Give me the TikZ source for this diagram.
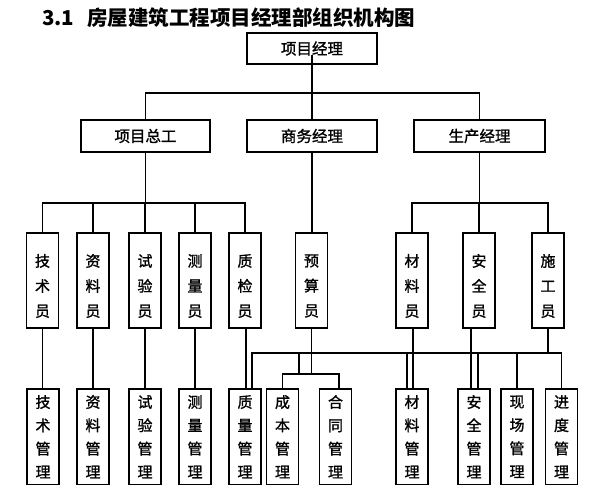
\documentclass[tikz,border=0pt]{standalone}
\usepackage{fontspec}
\setmainfont{Liberation Sans}
\newfontfamily\cjk{Noto Sans CJK SC}
\newfontfamily\cjkb[FakeBold=1.2]{Noto Sans CJK SC}
\usetikzlibrary{calc}
\begin{document}
\begin{tikzpicture}[x=1pt,y=-1pt,
  box/.style={draw, line width=1.4pt, inner sep=0pt},
  hbox/.style={box, minimum height=32pt, font=\cjkb\fontsize{15.5}{15.5}\selectfont},
  vbox3/.style={box, minimum width=32pt, minimum height=95pt},
  vtext3/.style={inner sep=0pt, align=center, font=\cjkb\fontsize{15}{25}\selectfont},
  vbox4/.style={box, minimum width=32pt, minimum height=95.5pt, align=center, font=\cjkb\fontsize{15}{23.3}\selectfont},
  conn/.style={line width=1.2pt},
  ]
\fill[white] (0,0) rectangle (603,500);
\useasboundingbox (0,0) rectangle (603,500);

% title
\node[anchor=west, inner sep=0pt, font=\cjk\bfseries\fontsize{20.5}{20.5}\selectfont] (title) at (42,18) {3.1\hspace{13pt}房屋建筑工程项目经理部组织机构图};

% level 1 and 2
\node[hbox, minimum width=130pt, minimum height=31pt] (pm) at (312,48.5) {项目经理};
\node[hbox, minimum width=129pt] (zg) at (145.5,136) {项目总工};
\node[hbox, minimum width=130pt] (sw) at (312,136) {商务经理};
\node[hbox, minimum width=131pt] (sc) at (479.5,136) {生产经理};

% level 3
\node[vbox3] (jsy) at (42.5,280.5) {};
\node[vtext3] (jsyt) at (42.5,286) {技\\术\\员};
\node[vbox3] (zly) at (93,280.5) {};
\node[vtext3] (zlyt) at (93,286) {资\\料\\员};
\node[vbox3] (syy) at (145,280.5) {};
\node[vtext3] (syyt) at (145,286) {试\\验\\员};
\node[vbox3] (cly) at (195,280.5) {};
\node[vtext3] (clyt) at (195,286) {测\\量\\员};
\node[vbox3] (zjy) at (245,280.5) {};
\node[vtext3] (zjyt) at (245,286) {质\\检\\员};
\node[vbox3] (ysy) at (311.5,280.5) {};
\node[vtext3] (ysyt) at (311.5,286) {预\\算\\员};
\node[vbox3] (cly2) at (412,280.5) {};
\node[vtext3] (cly2t) at (412,286) {材\\料\\员};
\node[vbox3] (aqy) at (479,280.5) {};
\node[vtext3] (aqyt) at (479,286) {安\\全\\员};
\node[vbox3] (sgy) at (548,280.5) {};
\node[vtext3] (sgyt) at (548,286) {施\\工\\员};

% level 4
\node[vbox4] (jsg) at (43,436.75) {技\\术\\管\\理};
\node[vbox4] (zlg) at (93,436.75) {资\\料\\管\\理};
\node[vbox4] (syg) at (145,436.75) {试\\验\\管\\理};
\node[vbox4] (clg) at (195,436.75) {测\\量\\管\\理};
\node[vbox4] (zmg) at (245,436.75) {质\\量\\管\\理};
\node[vbox4] (cbg) at (282.5,436.75) {成\\本\\管\\理};
\node[vbox4] (htg) at (335.5,436.75) {合\\同\\管\\理};
\node[vbox4] (clg2) at (412,436.75) {材\\料\\管\\理};
\node[vbox4] (aqg) at (474,436.75) {安\\全\\管\\理};
\node[vbox4] (xcg) at (517,436.75) {现\\场\\管\\理};
\node[vbox4] (jdg) at (561.5,436.75) {进\\度\\管\\理};

% bus coordinates
\coordinate (b1) at (312,93);
\coordinate (b2) at (145.5,203);
\coordinate (b3) at (479.5,203);
\coordinate (b4L) at (252,353);
\coordinate (b4R) at (561.5,353);
\coordinate (b5) at (311.5,374);
\coordinate (t1) at (299,353);

\begin{scope}[conn]
% level 1 -> 2
\draw ($(pm.center)+(0,6.5)$) -- (sw.north);
\draw (zg.north) |- (b1) -| (sc.north);
% level 2 -> 3
\draw (zg.south) -- (b2);
\draw (jsy.north) |- (b2) -| (zjy.north);
\draw (zly.north) -- (zly.north |- b2);
\draw (syy.north) -- (syy.north |- b2);
\draw (cly.north) -- (cly.north |- b2);
\draw (sw.south) -- (sw.south |- ysy.north);
\draw (sc.south) -- (b3);
\draw (cly2.north) |- (b3) -| (sgy.north);
\draw (aqy.north) -- (aqy.north |- b3);
% level 3 -> 4
\draw (jsy.south) -- (jsy.south |- jsg.north);
\draw (zly.south) -- (zly.south |- zlg.north);
\draw (syy.south) -- (syy.south |- syg.north);
\draw (cly.south) -- (cly.south |- clg.north);
\draw ([xshift=1pt]zjy.south) -- ([xshift=1pt]zmg.north);
\draw (b4L |- zmg.north) -- (b4L) -- (b4R) -- (jdg.north);
\draw (ysy.south) -- (b5);
\draw (cbg.north) |- (b5) -| ([xshift=3.5pt]htg.north);
\draw (t1) -- (t1 |- b5);
\draw ([xshift=1pt]cly2.south) -- ([xshift=1pt]clg2.north);
\draw ([xshift=-5pt]clg2.north) -- ([xshift=-5pt]clg2.north |- b4L);
\draw ([xshift=-8pt]aqy.south) -- ([xshift=-3pt]aqg.north);
\draw ([xshift=4pt]aqg.north) -- ([xshift=4pt]aqg.north |- b4L);
\draw (sgy.south) -- (sgy.south |- b4L);
\draw (xcg.north) -- (xcg.north |- b4L);
\end{scope}
\end{tikzpicture}
\end{document}
